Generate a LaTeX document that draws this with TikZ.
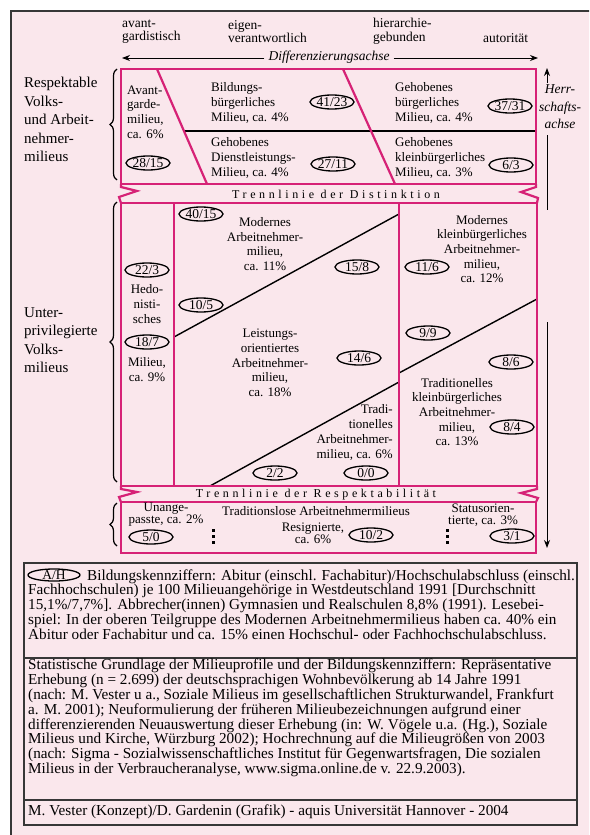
\documentclass[tikz,border=0pt]{standalone}
\usepackage{fontspec}
\setmainfont{Liberation Serif}
\usetikzlibrary{shapes.geometric,arrows.meta,decorations.pathreplacing}
\definecolor{bgpink}{RGB}{250,231,236}
\definecolor{mag}{RGB}{214,34,118}
\definecolor{framegray}{RGB}{55,55,55}
\newcommand\myfs[2]{\fontsize{#1}{#2}\selectfont}
\begin{document}
\begin{tikzpicture}[x=1pt,y=-1pt,
  magline/.style={draw=mag,line width=2.2pt,line join=miter},
  blkline/.style={draw=black,line width=1.4pt},
  txt/.style={inner sep=0pt,font=\myfs{13}{14.7}},
  toplab/.style={inner sep=0pt,font=\myfs{13.5}{13.5},align=left,anchor=west},
  sidelab/.style={inner sep=0pt,font=\myfs{15}{18.5},align=left,anchor=west},
  ell/.style={draw,ellipse,line width=1.3pt,inner sep=0pt,minimum width=44pt,minimum height=14pt,text height=8.5pt,text depth=0pt,font=\myfs{13.5}{14}},
  trenn/.style={inner sep=0pt,font=\myfs{12}{14}\addfontfeature{LetterSpace=30}},
  legend/.style={inner sep=0pt,font=\myfs{15.2}{14.8},align=left,anchor=west},
  axisarrow/.style={draw=black,line width=1pt,-{Stealth[length=8pt,width=6pt]}},
  bracestyle/.style={draw=black,line width=1.2pt,decorate,decoration={brace,amplitude=7pt}},
  boxline/.style={draw=framegray,line width=1.5pt}
]
\useasboundingbox (0,0) rectangle (589,835);
\clip (0,0) rectangle (589,835);
\fill[white] (0,0) rectangle (589,835);
\fill[bgpink] (11,11) rectangle (600,850);
\draw[framegray,line width=1.6pt] (11,850) -- (11,11) -- (600,11);

% top labels
\node[toplab] (l1) at (122,31.5) {avant-\\gardistisch};
\node[toplab] (l2) at (228,31.5) {eigen-\\verantwortlich};
\node[toplab] (l3) at (373,31.5) {hierarchie-\\gebunden};
\node[toplab] (l4) at (483,38) {autorität};
\node[inner sep=0pt,font=\myfs{13.5}{14}\itshape] (diff) at (329,57) {Differenzierungsachse};
\coordinate (dl) at (122,58);
\coordinate (dr) at (538,58);
\draw[axisarrow] ([xshift=-4pt,yshift=-1pt]diff.west) -- (dl);
\draw[axisarrow] ([xshift=4pt,yshift=-1pt]diff.east) -- (dr);

% Herrschaftsachse
\node[inner sep=0pt,font=\myfs{13.5}{17.5}\itshape,align=center] (herr) at (560,107) {Herr-\\schafts-\\achse};
\coordinate (hu1) at (547,83);
\coordinate (hu2) at (547,68);
\coordinate (hd1) at (547,135);
\coordinate (hd2) at (547,210);
\coordinate (hd3) at (547,322);
\coordinate (hd4) at (547,548);
\draw[axisarrow] (hu1) -- (hu2);
\draw[draw=black,line width=1pt] (hd1) -- (hd2);
\draw[axisarrow] (hd3) -- (hd4);

% side labels and braces
\node[sidelab] (s1) at (24,119.8) {Respektable\\Volks-\\und Arbeit-\\nehmer-\\milieus};
\node[sidelab] (s2) at (24,340) {Unter-\\privilegierte\\Volks-\\milieus};
\coordinate (b1a) at (117,180);
\coordinate (b1b) at (117,69);
\coordinate (b2a) at (117,482);
\coordinate (b2b) at (117,202);
\coordinate (b3a) at (117,546);
\coordinate (b3b) at (117,503);
\draw[bracestyle] (b1a) -- (b1b);
\draw[bracestyle] (b2a) -- (b2b);
\draw[bracestyle] (b3a) -- (b3b);

% black dividers (drawn beneath the magenta lines)
\draw[blkline] (184,131) -- (537,131);
\draw[blkline] (174,337) -- (399,214);
\draw[blkline] (210,486) -- (399,382);
\draw[blkline] (399,373) -- (537,299);

% upper box
\draw[magline] (121,69) rectangle (536,184);
\draw[magline] (157,69) -- (207,184);
\draw[magline] (343,69) -- (395,184);
% middle box
\draw[magline] (121,203) rectangle (537,486);
\draw[magline] (174,203) -- (174,486);
\draw[magline] (399,203) -- (399,486);
% bottom box
\draw[magline] (121,502) rectangle (536,553);
% break marks
\draw[magline] (121,184) -- (121,187) -- (137,191) -- (119,197) -- (121,203);
\draw[magline] (536,184) -- (536,187) -- (521,192) -- (538,198) -- (537,203);
\draw[magline] (121,486) -- (121,489) -- (137,492) -- (119,497) -- (121,502);
\draw[magline] (537,486) -- (537,489) -- (521,493) -- (538,498) -- (536,502);

\node[trenn] (t1) at (336,194) {Trennlinie der Distinktion};
\node[trenn] (t2) at (316,495) {Trennlinie der Respektabilität};

% upper box texts
\node[txt,align=left,anchor=west] (avg) at (127,112) {Avant-\\garde-\\milieu,\\ca. 6\%};
\node[ell] (e1) at (148,163) {28/15};
\node[txt,align=left,anchor=west] (bb) at (211,103) {Bildungs-\\bürgerliches\\Milieu, ca. 4\%};
\node[ell] (e2) at (332,102) {41/23};
\node[txt,align=left,anchor=west] (gb) at (395,103) {Gehobenes\\bürgerliches\\Milieu, ca. 4\%};
\node[ell] (e3) at (510,106) {37/31};
\node[txt,align=left,anchor=west] (gd) at (211,158) {Gehobenes\\Dienstleistungs-\\Milieu, ca. 4\%};
\node[ell] (e4) at (333,164) {27/11};
\node[txt,align=left,anchor=west] (gk) at (395,158) {Gehobenes\\kleinbürgerliches\\Milieu, ca. 3\%};
\node[ell] (e5) at (511,165) {6/3};

% middle box texts
\node[ell] (e6) at (147,270) {22/3};
\node[txt,align=center] (hed) at (147,304) {Hedo-\\nisti-\\sches};
\node[ell] (e7) at (147,342) {18/7};
\node[txt,align=center] (hed2) at (147,369.5) {Milieu,\\ca. 9\%};
\node[ell] (e8) at (201,214) {40/15};
\node[txt,align=center] (mam) at (265,244) {Modernes\\Arbeitnehmer-\\milieu,\\ca. 11\%};
\node[ell] (e9) at (357,267) {15/8};
\node[ell] (e10) at (201,305) {10/5};
\node[txt,align=center] (lam) at (270,363) {Leistungs-\\orientiertes\\Arbeitnehmer-\\milieu,\\ca. 18\%};
\node[ell] (e11) at (359,358) {14/6};
\node[txt,align=right,anchor=east] (tam) at (393,432.5) {Tradi-\\tionelles\\Arbeitnehmer-\\milieu, ca. 6\%};
\node[ell] (e12) at (275,473) {2/2};
\node[ell] (e13) at (366,473) {0/0};
\node[txt,align=center] (mka) at (482,249) {Modernes\\kleinbürgerliches\\Arbeitnehmer-\\milieu,\\ca. 12\%};
\node[ell] (e14) at (427,267) {11/6};
\node[ell] (e15) at (428,333) {9/9};
\node[ell] (e16) at (511,362) {8/6};
\node[txt,align=center] (tka) at (457,412) {Traditionelles\\kleinbürgerliches\\Arbeitnehmer-\\milieu,\\ca. 13\%};
\node[ell] (e17) at (512,427) {8/4};

% bottom box texts
\node[txt,align=center,font=\myfs{13}{12}] (una) at (166,515) {Unange-\\passte, ca. 2\%};
\node[ell] (e18) at (151,537) {5/0};
\fill (211.5,528.5) rectangle ++(3,3);
\fill (211.5,534.5) rectangle ++(3,3);
\fill (211.5,540.5) rectangle ++(3,3);
\node[txt] (tla) at (316,511) {Traditionslose Arbeitnehmermilieus};
\node[txt,align=center,font=\myfs{13}{12}] (res) at (313,533) {Resignierte,\\ca. 6\%};
\node[ell] (e19) at (371,535) {10/2};
\fill (445.5,528.5) rectangle ++(3,3);
\fill (445.5,534.5) rectangle ++(3,3);
\fill (445.5,540.5) rectangle ++(3,3);
\node[txt,align=center,font=\myfs{13}{12}] (sta) at (483,515) {Statusorien-\\tierte, ca. 3\%};
\node[ell] (e20) at (512,536) {3/1};

% legend
\draw[boxline] (24,563) rectangle (577,825);
\draw[boxline] (24,658) -- (577,658);
\draw[boxline] (24,800) -- (577,800);
\node[legend] (leg1) at (28,604.5) {\hspace{59pt}Bildungskennziffern: Abitur (einschl. Fachabitur)/Hochschulabschluss (einschl.\\
Fachhochschulen) je 100 Milieuangehörige in Westdeutschland 1991 [Durchschnitt\\
15,1\%/7,7\%]. Abbrecher(innen) Gymnasien und Realschulen 8,8\% (1991). Lesebei-\\
spiel: In der oberen Teilgruppe des Modernen Arbeitnehmermilieus haben ca. 40\% ein\\
Abitur oder Fachabitur und ca. 15\% einen Hochschul- oder Fachhochschulabschluss.};
\node[ell,minimum width=52pt,minimum height=12pt] (eah) at (54,575) {A/H};
\node[legend] (leg2) at (28,718) {Statistische Grundlage der Milieuprofile und der Bildungskennziffern: Repräsentative\\
Erhebung (n = 2.699) der deutschsprachigen Wohnbevölkerung ab 14 Jahre 1991\\
(nach: M. Vester u a., Soziale Milieus im gesellschaftlichen Strukturwandel, Frankfurt\\
a. M. 2001); Neuformulierung der früheren Milieubezeichnungen aufgrund einer\\
differenzierenden Neuauswertung dieser Erhebung (in: W. Vögele u.a. (Hg.), Soziale\\
Milieus und Kirche, Würzburg 2002); Hochrechnung auf die Milieugrößen von 2003\\
(nach: Sigma - Sozialwissenschaftliches Institut für Gegenwartsfragen, Die sozialen\\
Milieus in der Verbraucheranalyse, www.sigma.online.de v. 22.9.2003).};
\node[legend] (leg3) at (28,812) {M. Vester (Konzept)/D. Gardenin (Grafik) - aquis Universität Hannover - 2004};
\end{tikzpicture}
\end{document}
